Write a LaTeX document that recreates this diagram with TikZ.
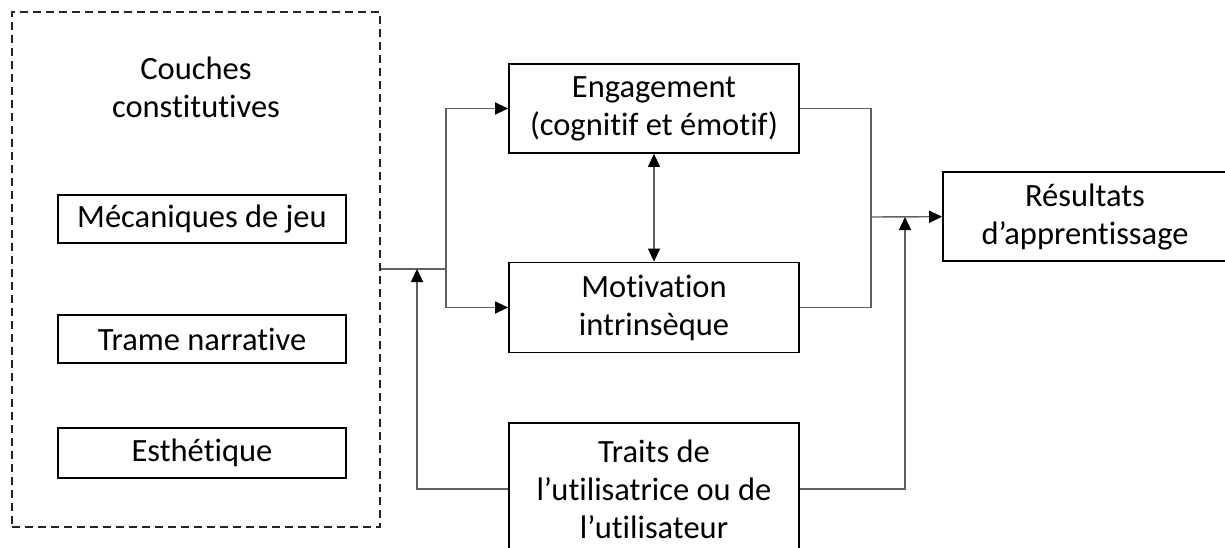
\documentclass[tikz,border=0pt]{standalone}
\usepackage{fontspec}
\setmainfont{Carlito}[Ligatures=NoCommon]
\usetikzlibrary{arrows.meta}
\begin{document}
\begin{tikzpicture}[x=1pt,y=-1pt,
  box/.style={draw=black,line width=1.8pt,rectangle,inner sep=0pt,align=center,
    font=\fontsize{32.5}{38}\selectfont},
  layerbox/.style={box,minimum width=288pt,minimum height=48pt},
  bigbox/.style={box,minimum width=290pt,minimum height=89pt},
  conn/.style={draw=black!62,line width=1.4pt},
  tip/.style={},
  arr/.style={conn,-{Triangle[length=13pt,width=12pt,fill=black,color=black]}},
  darr/.style={conn,{Triangle[length=13pt,width=12pt,fill=black,color=black]}-{Triangle[length=13pt,width=12pt,fill=black,color=black]}},
  lbl/.style={align=center,font=\fontsize{32.5}{38}\selectfont,inner sep=0pt}]
\useasboundingbox (0,0) rectangle (1225,548);
\clip (0,0) rectangle (1225,548);
% dashed group
\node[draw=black!85,line width=1.8pt,dash pattern=on 8pt off 5pt,minimum width=368pt,minimum height=515pt,inner sep=0pt] (layers) at (196,269.5) {};
\node[lbl] (title) at (196,87) {Couches\\constitutives};
\node[layerbox] (meca) at (202,219) {Mécaniques de jeu};
\node[layerbox] (trame) at (202,339) {Trame narrative};
\node[layerbox,minimum height=50pt] (esth) at (202,453) {Esthétique};
% main boxes
\node[bigbox] (eng) at (654,108.5) {Engagement\\(cognitif et émotif)};
\node[bigbox,minimum height=90pt] (mot) at (654,307.5) {Motivation\\intrinsèque};
\node[bigbox,minimum height=132pt] (traits) at (654,489) {Traits de\\l’utilisatrice ou de\\l’utilisateur};
\node[box,minimum width=284pt,minimum height=89pt] (res) at (1085,216.7) {Résultats\\d’apprentissage};
% junctions
\coordinate (j1) at (446,269);
\coordinate (j1a) at (417,269);
\coordinate (j2) at (871,217);
\coordinate (j2a) at (905,217);
% connectors
\draw[conn] (layers.east |- j1) -- (j1);
\draw[arr] (j1) |- (eng.west);
\draw[arr] (j1) |- (mot.west);
\draw[arr] (traits.west) -| (j1a);
\draw[darr] (eng.south) -- (mot.north);
\draw[conn] (eng.east) -| (j2);
\draw[conn] (mot.east) -| (j2);
\draw[arr] (j2) -- (res.west);
\draw[arr] (traits.east) -| (j2a);
\end{tikzpicture}
\end{document}
